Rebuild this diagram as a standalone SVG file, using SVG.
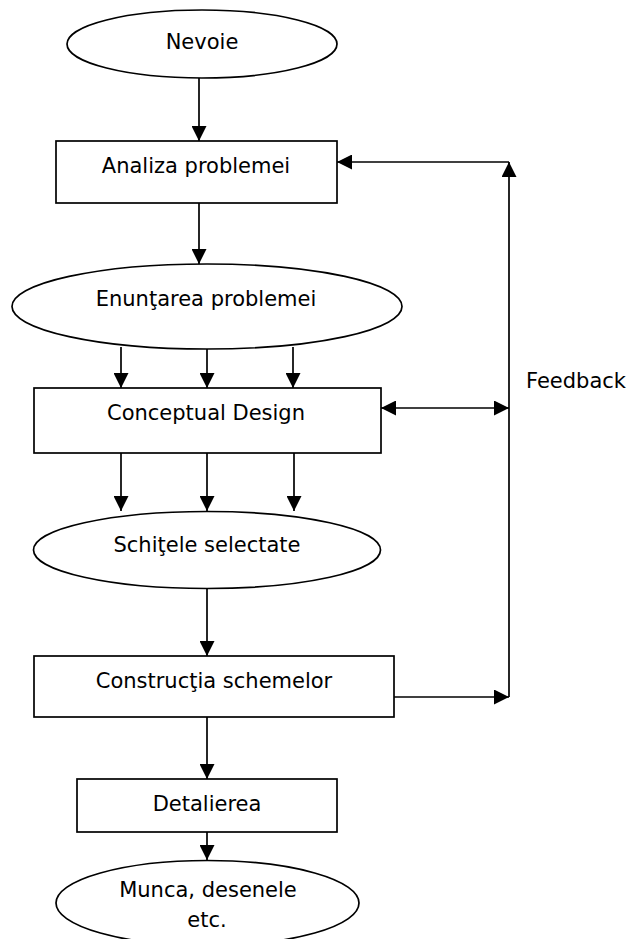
<svg xmlns="http://www.w3.org/2000/svg" width="627" height="939" viewBox="0 0 627 939">
  <style>
    .shape { fill: #ffffff; stroke: #000000; stroke-width: 1.7; }
    .label { font-family: "DejaVu Sans", Verdana, sans-serif; font-size: 21px; fill: #000000; text-anchor: middle; }
    .link { fill: none; stroke: #000000; stroke-width: 1.7; marker-end: url(#arrow); }
  </style>
  <defs>
    <marker id="arrow" markerUnits="userSpaceOnUse" markerWidth="15" markerHeight="15" refX="15" refY="7.5" orient="auto-start-reverse">
      <path d="M0,0 L15,7.5 L0,15 Z" fill="#000000"/>
    </marker>
  </defs>
  <rect width="627" height="939" fill="#ffffff"/>

  <g id="connectors">
    <path class="link" d="M199,78 V141"/>
    <path class="link" d="M199,203 V264"/>
    <path class="link" d="M121,347 V388"/>
    <path class="link" d="M207,346 V388"/>
    <path class="link" d="M293,347 V388"/>
    <path class="link" d="M121,449 V511"/>
    <path class="link" d="M207,449 V511"/>
    <path class="link" d="M294,449 V511"/>
    <path class="link" d="M207,588 V656"/>
    <path class="link" d="M207,717 V779"/>
    <path class="link" d="M207,820 V860"/>
    <!-- feedback loop -->
    <path class="link" d="M394,697 H509"/>
    <path class="link" d="M509,697 V162"/>
    <path class="link" d="M509,162 H337"/>
    <path class="link" d="M381,408 H509" marker-start="url(#arrow)"/>
  </g>

  <g id="nevoie">
    <ellipse class="shape" cx="202" cy="44" rx="135" ry="34"/>
    <text class="label" x="202" y="49">Nevoie</text>
  </g>
  <g id="analiza">
    <rect class="shape" x="56" y="141" width="281" height="62"/>
    <text class="label" x="196" y="173">Analiza problemei</text>
  </g>
  <g id="enuntarea">
    <ellipse class="shape" cx="207" cy="306.5" rx="195" ry="42.5"/>
    <text class="label" x="206" y="306">Enunţarea problemei</text>
  </g>
  <g id="conceptual">
    <rect class="shape" x="34" y="388" width="347" height="65"/>
    <text class="label" x="206" y="420">Conceptual Design</text>
  </g>
  <g id="feedback">
    <text class="label" x="526" y="388" style="text-anchor:start">Feedback</text>
  </g>
  <g id="schitele">
    <ellipse class="shape" cx="207" cy="550" rx="173.5" ry="38.5"/>
    <text class="label" x="207" y="552">Schiţele selectate</text>
  </g>
  <g id="constructia">
    <rect class="shape" x="34" y="656" width="360" height="61"/>
    <text class="label" x="214" y="688">Construcţia schemelor</text>
  </g>
  <g id="detalierea">
    <rect class="shape" x="77" y="779" width="260" height="53"/>
    <text class="label" x="207" y="811">Detalierea</text>
  </g>
  <g id="munca">
    <ellipse class="shape" cx="207.5" cy="903" rx="151.5" ry="42.5"/>
    <text class="label" x="208" y="897">Munca, desenele</text>
    <text class="label" x="207" y="927">etc.</text>
  </g>
</svg>
